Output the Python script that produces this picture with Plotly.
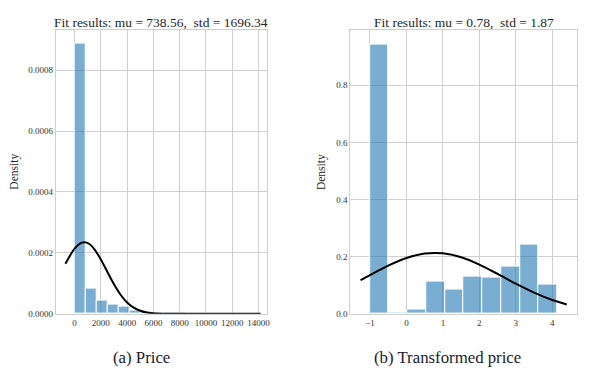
import plotly.graph_objects as go

# ---- data ----
price_bin_start = 0.0
price_bin_width = 844.0
price_density = [0.000886, 0.0000833, 0.0000425, 0.0000305, 0.000025, 0.0000115,
                 0.000006, 0.000004, 0.000003, 0.0000025, 0.0000015, 0.000001,
                 0.000001, 0.0000007, 0.0000005, 0.0000005]
price_fit_x = [-700, -300, 0, 400, 738, 1100, 1500, 2000, 2500, 3000, 3500, 4000,
               4500, 5000, 5500, 6000, 7000, 8000, 10000, 12000, 14170]
price_fit_y = [0.0001642, 0.000195, 0.000214, 0.0002305, 0.0002352, 0.00023, 0.0002127,
               0.0001784, 0.0001372, 0.0000967, 0.0000625, 0.000037, 0.0000201,
               0.00001, 0.0000046, 0.0000019, 0.00000026, 0.00000002, 0, 0, 0]
price_xticks = [0, 2000, 4000, 6000, 8000, 10000, 12000, 14000]
price_yticks = [0.0, 0.0002, 0.0004, 0.0006, 0.0008]

tprice_bin_start = -1.0
tprice_bin_width = 0.514
tprice_density = [0.943, 0.004, 0.016, 0.114, 0.084, 0.130, 0.128, 0.165, 0.243, 0.102]
tprice_fit_x = [-1.257, -1.0, -0.5, 0.0, 0.5, 0.78, 1.0, 1.5, 2.0, 2.5, 3.0, 3.5, 4.0, 4.397]
tprice_fit_y = [0.1179, 0.1356, 0.1687, 0.1955, 0.2109, 0.2133, 0.2118, 0.1981, 0.1724,
                0.1397, 0.1054, 0.0741, 0.0484, 0.0328]
tprice_xticks = [-1, 0, 1, 2, 3, 4]
tprice_yticks = [0.0, 0.2, 0.4, 0.6, 0.8]

title_a = "Fit results: mu = 738.56,  std = 1696.34"
title_b = "Fit results: mu = 0.78,  std = 1.87"
caption_a = "(a) Price"
caption_b = "(b) Transformed price"
ylabel = "Density"

# ---- figure ----
W, H = 600, 380
SERIF = "Liberation Serif"
BAR = "rgba(31,119,180,0.6)"
GRID = "#cfcfcf"

def centers(start, width, n):
    return [start + width * (i + 0.5) for i in range(n)]

fig = go.Figure()
fig.add_trace(go.Bar(x=centers(price_bin_start, price_bin_width, len(price_density)),
                     y=price_density, width=price_bin_width,
                     marker=dict(color=BAR, line=dict(color="white", width=1)),
                     xaxis="x", yaxis="y", showlegend=False))
fig.add_trace(go.Scatter(x=price_fit_x, y=price_fit_y, mode="lines",
                         line=dict(color="black", width=2, shape="spline", smoothing=0.8),
                         xaxis="x", yaxis="y", showlegend=False))
fig.add_trace(go.Bar(x=centers(tprice_bin_start, tprice_bin_width, len(tprice_density)),
                     y=tprice_density, width=tprice_bin_width,
                     marker=dict(color=BAR, line=dict(color="white", width=1)),
                     xaxis="x2", yaxis="y2", showlegend=False))
fig.add_trace(go.Scatter(x=tprice_fit_x, y=tprice_fit_y, mode="lines",
                         line=dict(color="black", width=2, shape="spline", smoothing=0.8),
                         xaxis="x2", yaxis="y2", showlegend=False))

def px_x(p):
    return p / W

def px_y(p):
    return 1 - p / H

ax_common = dict(showgrid=True, gridcolor=GRID, gridwidth=1, zeroline=False,
                 showline=True, linecolor=GRID, linewidth=1, mirror=True,
                 ticks="", tickfont=dict(family=SERIF, size=9, color="#333333"))

fig.update_layout(
    width=W, height=H, margin=dict(l=0, r=0, t=0, b=0),
    paper_bgcolor="white", plot_bgcolor="white", bargap=0,
    xaxis=dict(domain=[px_x(56), px_x(268)], range=[-1440, 14630], anchor="y",
               tickvals=price_xticks, ticktext=[str(v) for v in price_xticks], **ax_common),
    yaxis=dict(domain=[px_y(318), px_y(30)], range=[0, 0.000933], anchor="x",
               tickvals=price_yticks, ticktext=["%.4f" % v for v in price_yticks], **ax_common),
    xaxis2=dict(domain=[px_x(352), px_x(580)], range=[-1.54, 4.68], anchor="y2",
                tickvals=tprice_xticks,
                ticktext=[str(v).replace("-", "\u2212") for v in tprice_xticks], **ax_common),
    yaxis2=dict(domain=[px_y(318), px_y(30)], range=[0, 0.995], anchor="x2",
                tickvals=tprice_yticks, ticktext=["%.1f" % v for v in tprice_yticks], **ax_common),
)

ann = []
ann.append(dict(text=title_a, x=px_x(162), y=px_y(22.5), xref="paper", yref="paper",
                showarrow=False, font=dict(family=SERIF, size=13.5, color="#262626"),
                xanchor="center", yanchor="middle"))
ann.append(dict(text=title_b, x=px_x(466), y=px_y(22.5), xref="paper", yref="paper",
                showarrow=False, font=dict(family=SERIF, size=13.5, color="#262626"),
                xanchor="center", yanchor="middle"))
ann.append(dict(text=ylabel, x=px_x(15), y=px_y(174), xref="paper", yref="paper",
                showarrow=False, textangle=-90, font=dict(family=SERIF, size=11.5, color="#262626"),
                xanchor="center", yanchor="middle"))
ann.append(dict(text=ylabel, x=px_x(323), y=px_y(174), xref="paper", yref="paper",
                showarrow=False, textangle=-90, font=dict(family=SERIF, size=11.5, color="#262626"),
                xanchor="center", yanchor="middle"))
ann.append(dict(text=caption_a, x=px_x(142), y=px_y(362), xref="paper", yref="paper",
                showarrow=False, font=dict(family=SERIF, size=16.8, color="#1a1a2e"),
                xanchor="center", yanchor="middle"))
ann.append(dict(text=caption_b, x=px_x(450), y=px_y(362), xref="paper", yref="paper",
                showarrow=False, font=dict(family=SERIF, size=16.8, color="#1a1a2e"),
                xanchor="center", yanchor="middle"))
fig.update_layout(annotations=ann)

fig.write_html("out.html", config={"displayModeBar": False},
               post_script="document.body.style.margin='0';")
